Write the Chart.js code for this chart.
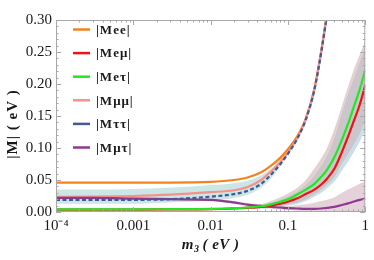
<!DOCTYPE html>
<html><head><meta charset="utf-8">
<script src="https://cdn.jsdelivr.net/npm/chart.js@4/dist/chart.umd.min.js"></script>
<style>html,body{margin:0;padding:0;background:#fff}#wrap{width:374px;height:260px;position:relative}</style>
</head><body><div id="wrap"><canvas id="c" width="374" height="260"></canvas></div>
<script>
// x grid (m3 in eV)
const m3 = [0.0001,0.0003,0.001,0.003,0.01,0.02,0.03,0.045,0.06,0.08,0.1,0.13,0.17,0.22,0.27,0.32,0.4,0.5,0.6,0.7,0.85,1];
// central curves
const mee = [0.046,0.046,0.046,0.046,0.047,0.050,0.054,0.062,0.072,0.085,0.098,0.117,0.146,0.193,0.252,0.310,0.390,0.490,0.590,0.690,0.840,0.990];
const mem = [0.0038,0.0038,0.0038,0.004,0.0045,0.0055,0.0065,0.008,0.010,0.013,0.016,0.021,0.028,0.035,0.043,0.052,0.068,0.094,0.118,0.140,0.168,0.198];
const met = [0.004,0.004,0.004,0.0045,0.005,0.006,0.007,0.009,0.012,0.016,0.020,0.027,0.035,0.044,0.055,0.066,0.086,0.113,0.138,0.162,0.192,0.222];
const mmm = [0.0235,0.024,0.025,0.027,0.031,0.034,0.039,0.050,0.063,0.078,0.093,0.114,0.145,0.192,0.251,0.309,0.389,0.489,0.589,0.689,0.839,0.989];
const mtt = [0.019,0.019,0.019,0.020,0.024,0.028,0.033,0.044,0.058,0.075,0.091,0.113,0.144,0.191,0.250,0.308,0.388,0.488,0.588,0.688,0.838,0.988];
const mmt = [0.022,0.022,0.021,0.020,0.019,0.015,0.0115,0.0095,0.008,0.007,0.006,0.0055,0.005,0.005,0.0055,0.0065,0.008,0.011,0.0135,0.016,0.019,0.021];
// uncertainty bands
const tealLo = [0.013,0.013,0.013,0.015,0.018,0.022,0.027,0.038,0.052,0.072,0.089,0.111,0.143,0.190,0.249,0.307,0.387,0.487,0.587,0.687,0.837,0.987];
const tealHi = [0.035,0.035,0.036,0.038,0.042,0.045,0.049,0.057,0.067,0.082,0.096,0.116,0.146,0.193,0.252,0.310,0.390,0.490,0.590,0.690,0.840,0.990];
const blueLo = [0.003,0.003,0.003,0.0032,0.0035,0.004,0.0045,0.005,0.006,0.008,0.010,0.012,0.017,0.024,0.030,0.037,0.048,0.065,0.079,0.092,0.110,0.128];
const grayLo = [0.0033,0.0033,0.0033,0.0035,0.0038,0.0043,0.005,0.006,0.007,0.009,0.011,0.014,0.019,0.027,0.034,0.042,0.054,0.075,0.090,0.103,0.122,0.143];
const grayHi = [0.0048,0.0048,0.0048,0.005,0.0055,0.0065,0.008,0.011,0.015,0.020,0.025,0.032,0.043,0.058,0.073,0.089,0.118,0.157,0.186,0.208,0.236,0.258];
const outerHi = [0.005,0.005,0.005,0.0053,0.006,0.0072,0.009,0.012,0.017,0.023,0.029,0.037,0.050,0.068,0.084,0.100,0.130,0.166,0.196,0.220,0.246,0.268];
const purpLo = [0.020,0.020,0.019,0.018,0.017,0.013,0.010,0.008,0.006,0.004,0.003,0.002,0.0015,0.001,0.001,0.001,0.001,0.001,0.001,0.001,0.001,0.001];
const purpHi = [0.024,0.024,0.023,0.022,0.021,0.017,0.014,0.012,0.011,0.010,0.0095,0.0105,0.012,0.0145,0.017,0.019,0.023,0.030,0.035,0.039,0.044,0.048];
// ticks & labels
const xTicks = [0.0001,0.001,0.01,0.1,1];
const xTickLabels = ['10\u207B\u2074','0.001','0.01','0.1','1'];
const yTicks = [0,0.05,0.10,0.15,0.20,0.25,0.30];
const seriesLabels = ['|Mee|','|Me\u03BC|','|Me\u03C4|','|M\u03BC\u03BC|','|M\u03C4\u03C4|','|M\u03BC\u03C4|'];
const seriesColors = ['#f5821f','#ee1414','#22e822','#f4928a','#3d5b99','#8e3a8e'];

const pts = arr => m3.map((x,i)=>({x:x,y:arr[i]}));
const lineDs = (label, arr, color, order, dash) => ({
  label, data: pts(arr), borderColor: color, borderWidth: 2.2, pointRadius: 0,
  cubicInterpolationMode: 'monotone', fill: false, order, borderDash: dash || [], isLine: true
});
const edgeDs = (arr, order) => ({label:'', data: pts(arr), borderWidth: 0, borderColor:'rgba(0,0,0,0)', pointRadius:0, cubicInterpolationMode:'monotone', fill:false, order});
const bandDs = (arr, target, color, order) => ({label:'', data: pts(arr), borderWidth: 0, borderColor:'rgba(0,0,0,0)', pointRadius:0, cubicInterpolationMode:'monotone', fill:{target: target}, backgroundColor: color, order});

const datasets = [
  lineDs(seriesLabels[0], mee, seriesColors[0], 5),        //0
  lineDs(seriesLabels[1], mem, seriesColors[1], 2),        //1
  lineDs(seriesLabels[2], met, seriesColors[2], 1),        //2
  lineDs(seriesLabels[3], mmm, seriesColors[3], 4),        //3
  lineDs(seriesLabels[4], mtt, seriesColors[4], 0, [4,2.5]), //4
  lineDs(seriesLabels[5], mmt, seriesColors[5], 3),        //5
  edgeDs(tealLo, 20),                                      //6
  bandDs(tealHi, 6, 'rgba(130,195,190,0.42)', 19),         //7
  edgeDs(blueLo, 30),                                      //8
  bandDs(grayLo, 8, 'rgba(190,218,232,0.85)', 29),         //9
  bandDs(grayHi, 9, 'rgba(196,192,197,0.9)', 28),          //10
  bandDs(outerHi, 10, 'rgba(222,196,196,0.8)', 27),        //11
  edgeDs(purpLo, 40),                                      //12
  bandDs(purpHi, 12, 'rgba(190,140,160,0.4)', 39)          //13
];

const decor = {
  id: 'decor',
  afterDatasetsDraw(chart) {
    const {ctx, chartArea: a, scales: {x, y}} = chart;
    ctx.save();
    ctx.strokeStyle = '#a8a8a8';
    ctx.lineWidth = 1;
    ctx.strokeRect(a.left + 0.5, a.top + 0.5, a.right - a.left - 1, a.bottom - a.top - 1);
    ctx.beginPath();
    for (let d = -4; d <= 0; d++) {
      for (let k = 1; k <= 9; k++) {
        const v = k * Math.pow(10, d);
        if (v > 1.0000001) continue;
        const px = Math.round(x.getPixelForValue(v)) + 0.5;
        const L = k === 1 ? 5 : 2.5;
        ctx.moveTo(px, a.bottom); ctx.lineTo(px, a.bottom - L);
        ctx.moveTo(px, a.top); ctx.lineTo(px, a.top + L);
      }
    }
    for (let i = 0; i <= 30; i++) {
      const v = i / 100;
      const py = Math.round(y.getPixelForValue(v)) + 0.5;
      const L = i % 5 === 0 ? 5 : 2.5;
      ctx.moveTo(a.left, py); ctx.lineTo(a.left + L, py);
      ctx.moveTo(a.right, py); ctx.lineTo(a.right - L, py);
    }
    ctx.stroke();
    ctx.restore();
  },
  afterDraw(chart) {
    const {ctx, chartArea: a} = chart;
    ctx.save();
    ctx.fillStyle = '#1a1a1a';
    // y title
    ctx.translate(13, 124);
    ctx.rotate(-Math.PI / 2);
    ctx.font = 'bold 15px "Liberation Serif", serif';
    ctx.textAlign = 'center';
    ctx.textBaseline = 'middle';
    try { ctx.letterSpacing = '1px'; } catch (e) {}
    ctx.fillText('|M| ( eV )', 0, 0);
    ctx.restore();
    // x title
    ctx.save();
    ctx.fillStyle = '#1a1a1a';
    ctx.textBaseline = 'alphabetic';
    try { ctx.letterSpacing = '0.5px'; } catch (e) {}
    const cx = (a.left + a.right) / 2, by = 249;
    const f1 = 'bold italic 15px "Liberation Serif", serif';
    const f2 = 'bold italic 10px "Liberation Serif", serif';
    ctx.font = f1; const w1 = ctx.measureText('m').width;
    ctx.font = f2; const w2 = ctx.measureText('3').width + 3;
    ctx.font = f1; const w3 = ctx.measureText('( eV )').width;
    let sx = cx - (w1 + w2 + w3) / 2;
    ctx.font = f1; ctx.fillText('m', sx, by); sx += w1;
    ctx.font = f2; ctx.fillText('3', sx, by + 3); sx += w2;
    ctx.font = f1; ctx.fillText('( eV )', sx, by);
    ctx.restore();
    // legend
    ctx.save();
    ctx.font = 'bold 13px "Liberation Serif", serif';
    ctx.textBaseline = 'middle';
    ctx.textAlign = 'left';
    try { ctx.letterSpacing = '1px'; } catch (e) {}
    chart.data.datasets.forEach((ds, i) => {
      if (!ds.isLine) return;
      const yy = 29.5 + i * 23.6;
      ctx.strokeStyle = ds.borderColor;
      ctx.lineWidth = 2.5;
      ctx.setLineDash([]);
      ctx.beginPath(); ctx.moveTo(73, yy); ctx.lineTo(90, yy); ctx.stroke();
      ctx.fillStyle = '#1a1a1a';
      ctx.fillText(ds.label, 96, yy + 1);
    });
    ctx.restore();
  }
};

new Chart(document.getElementById('c'), {
  type: 'line',
  data: { datasets },
  options: {
    responsive: false, animation: false, devicePixelRatio: 1,
    layout: { padding: { top: 20, right: 5, left: 0, bottom: 0 } },
    plugins: { legend: { display: false }, tooltip: { enabled: false }, filler: { propagate: false } },
    scales: {
      x: {
        type: 'logarithmic', min: 0.0001, max: 1,
        afterBuildTicks: s => { s.ticks = xTicks.map(v => ({ value: v })); },
        afterFit: s => { s.height = 48; },
        ticks: {
          autoSkip: false, maxRotation: 0, padding: 5, color: '#1a1a1a',
          font: { family: '"Liberation Serif", serif', size: 15 },
          callback: v => { const i = xTicks.findIndex(t => Math.abs(t - v) / t < 1e-6); return i >= 0 ? xTickLabels[i] : ''; }
        },
        grid: { display: false, drawTicks: false }, border: { display: false }
      },
      y: {
        min: 0, max: 0.3,
        afterBuildTicks: s => { s.ticks = yTicks.map(v => ({ value: v })); },
        afterFit: s => { s.width = 56; },
        ticks: {
          padding: 4, color: '#1a1a1a',
          font: { family: '"Liberation Serif", serif', size: 15 },
          callback: v => Number(v).toFixed(2)
        },
        grid: { display: false, drawTicks: false }, border: { display: false }
      }
    }
  },
  plugins: [decor]
});
</script>
</body></html>
